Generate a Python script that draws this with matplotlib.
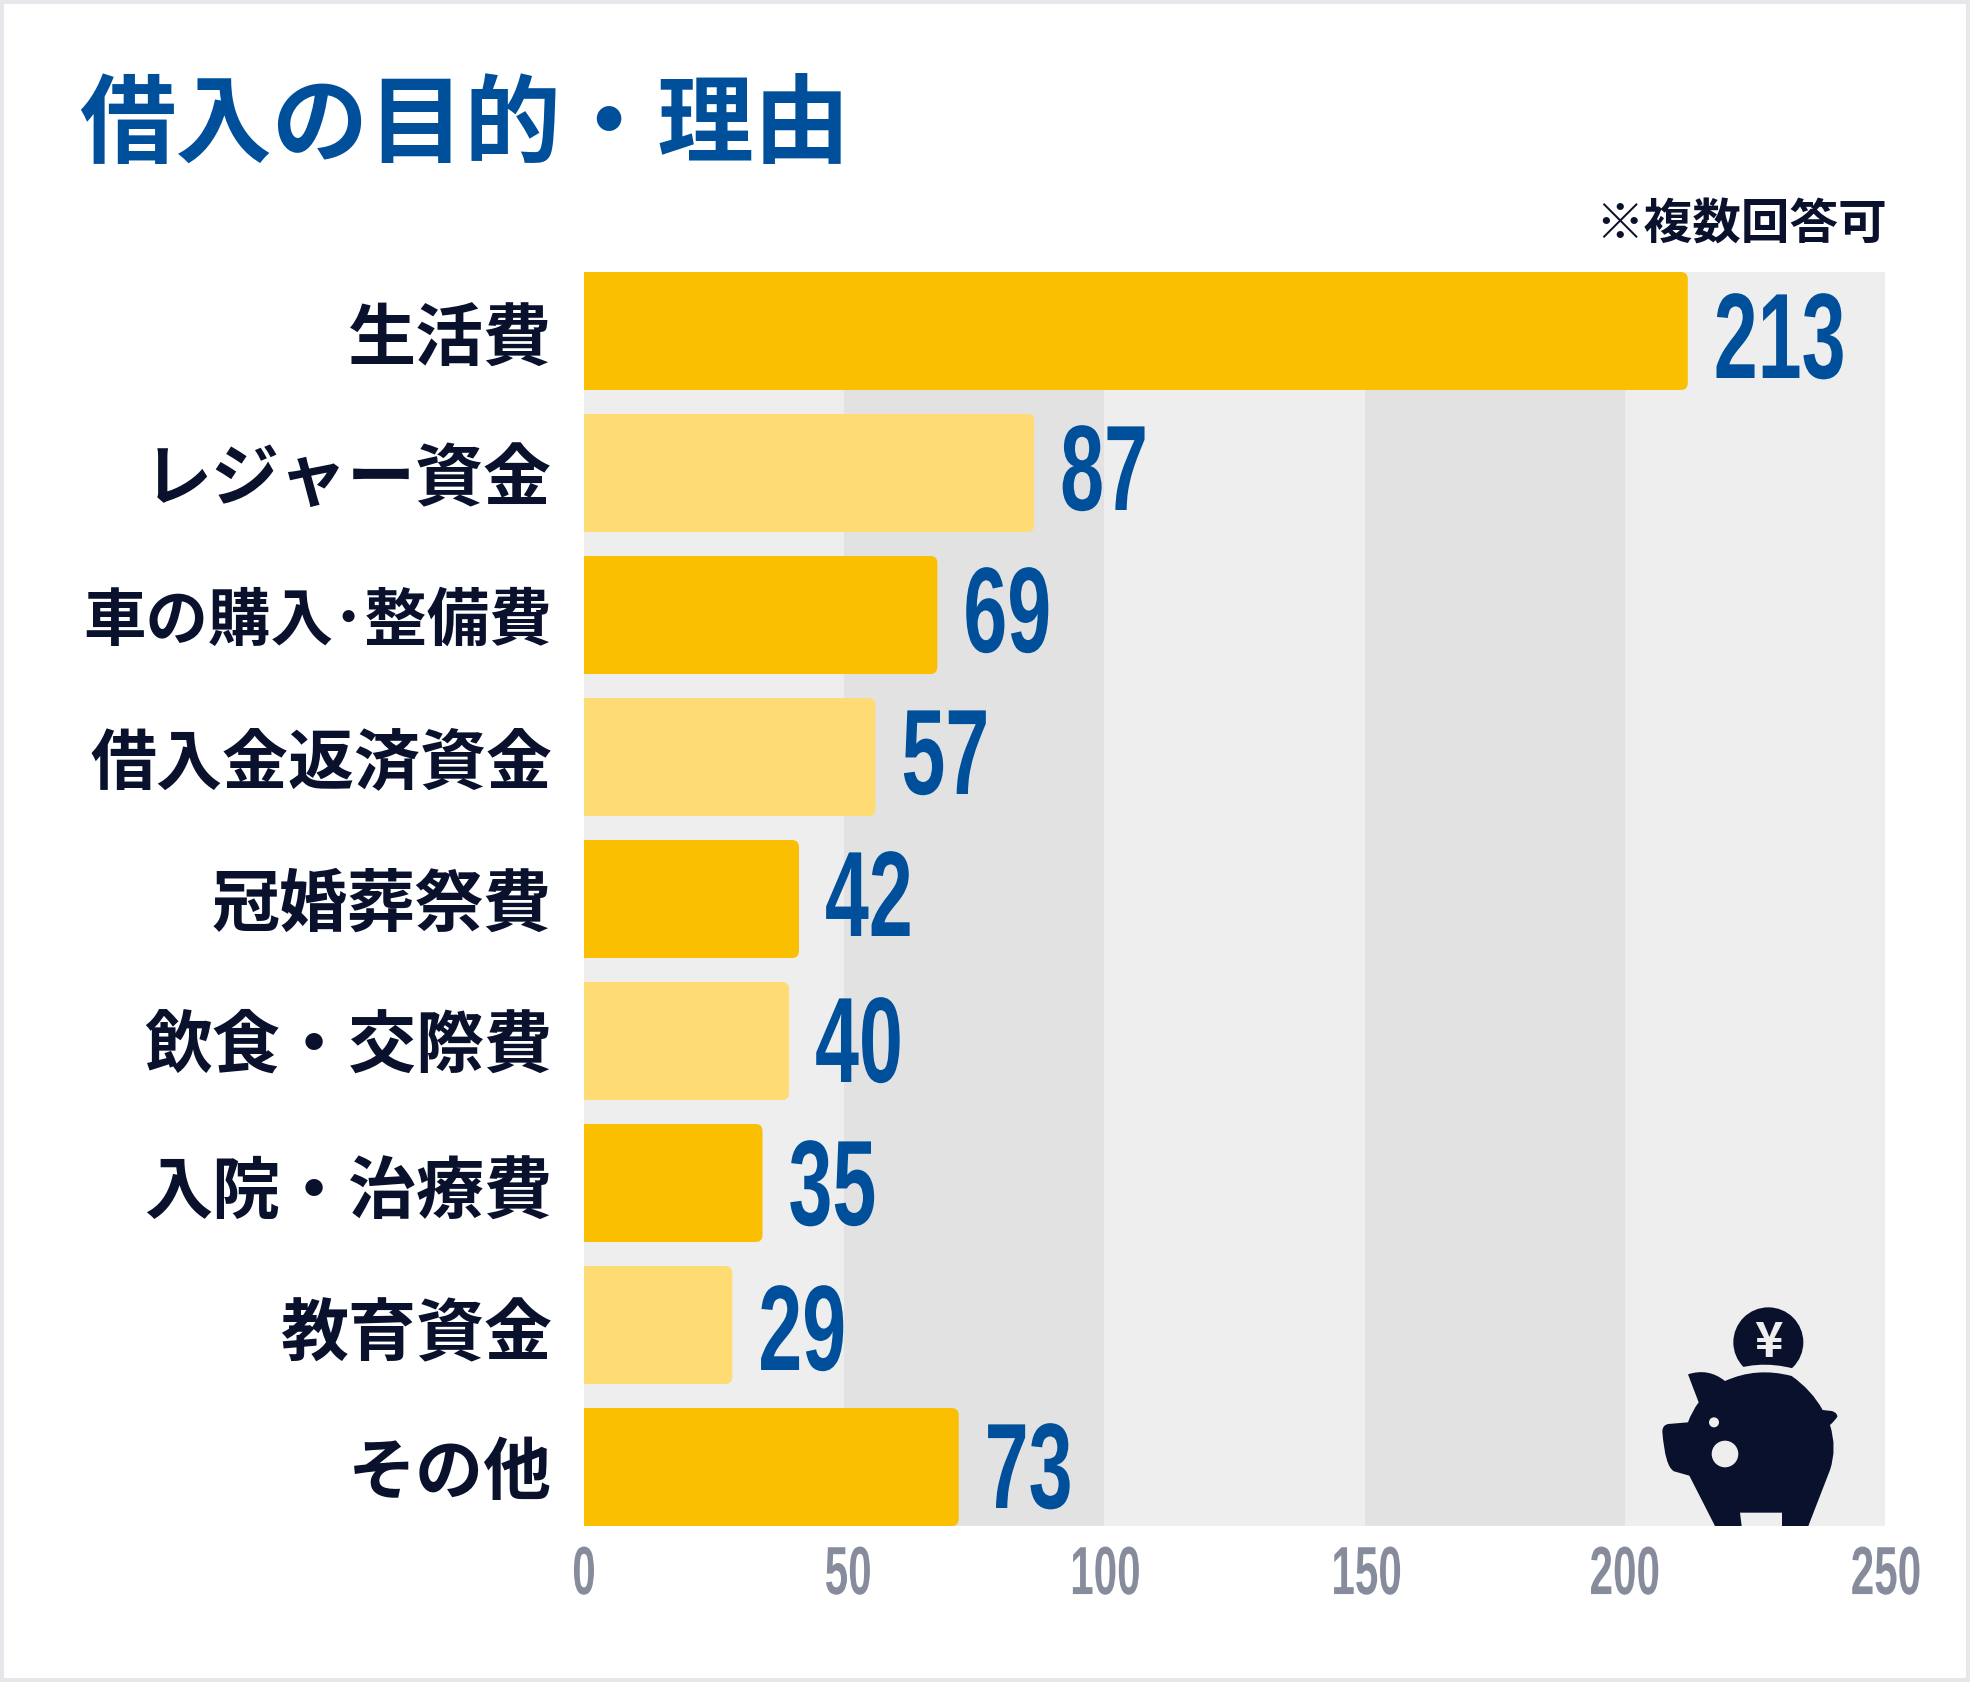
# 借入の目的・理由 horizontal bar chart
import matplotlib
matplotlib.use('Agg')
import matplotlib.pyplot as plt
from matplotlib.patches import FancyBboxPatch, PathPatch, Circle, Rectangle
from matplotlib.path import Path
from matplotlib.patheffects import AbstractPathEffect
from matplotlib.transforms import Affine2D

plt.rcParams['font.family'] = ['Noto Sans CJK JP', 'DejaVu Sans']

# Data
categories = ['生活費', 'レジャー資金', '車の購入･整備費', '借入金返済資金', '冠婚葬祭費',
              '飲食・交際費', '入院・治療費', '教育資金', 'その他']
values = [213, 87, 69, 57, 42, 40, 35, 29, 73]
# bars in the picture stop a little short of their printed number
bar_lengths = [212.1, 86.5, 67.9, 56.0, 41.3, 39.4, 34.3, 28.5, 72.0]
x_ticks = [0, 50, 100, 150, 200, 250]
title = '借入の目的・理由'
note = '※複数回答可'

# Colours
blue = '#004F9B'
navy = '#0A112C'
grey_text = '#878C9C'
band_light = '#EEEEEE'
band_dark = '#E2E2E2'
bar_colors = ['#F9BF00', '#FFDC73']
border = '#E5E7EA'

# text sits unevenly in the picture, offsets per row / tick in pixels
value_dy = [15, 5, 5, 5, 5, 9, 10, 13, 9]
cat_dy = [3, 0, 0, 0, 0, -1, 4, 3, 0]
tick_dx = [0, 4, 1, 2, 0, 1]

W, H = 1970, 1682
digit_font = 'Liberation Sans'
digit_w = 0.65
tick_w = 0.62


class Squeeze(AbstractPathEffect):
    # narrows the glyphs around a fixed x pixel, to imitate a condensed font
    def __init__(self, x0, sx, dx=0):
        super().__init__()
        self.x0 = x0
        self.sx = sx
        self.dx = dx

    def draw_path(self, renderer, gc, tpath, affine, rgbFace=None):
        squeeze = Affine2D().translate(-self.x0, 0).scale(self.sx, 1).translate(self.x0 + self.dx, 0)
        renderer.draw_path(gc, tpath, affine + squeeze, rgbFace)


fig = plt.figure(figsize=(W / 100, H / 100), dpi=100, facecolor='white')

left, right, top, bottom = 584, 1885, 272, 1526
ax = fig.add_axes([left / W, 1 - bottom / H, (right - left) / W, (bottom - top) / H])
ax.set_xlim(0, 250)
bar_h = 118 / 142
ax.set_ylim(len(values) - 1 + bar_h / 2, -bar_h / 2)
for s in ax.spines.values():
    s.set_visible(False)
ax.tick_params(length=0)

# Background bands, every 50
for i in range(len(x_ticks) - 1):
    ax.axvspan(x_ticks[i], x_ticks[i + 1], color=band_dark if i % 2 else band_light, lw=0, zorder=0)

# Bars, only the right corners are rounded (left ones are clipped by the axes)
px_x = (right - left) / 250
px_y = 142
r = 7 / px_x
for i, v in enumerate(bar_lengths):
    bar = FancyBboxPatch((-10, i - bar_h / 2), v + 10, bar_h,
                         boxstyle=f'round,pad=0,rounding_size={r}',
                         mutation_aspect=px_x / px_y,
                         fc=bar_colors[i % 2], ec='none', zorder=2)
    ax.add_patch(bar)

fig.canvas.draw()

# Value labels
gap = 26
for i, (v, b) in enumerate(zip(values, bar_lengths)):
    x0 = ax.transData.transform((b, 0))[0] + gap
    ax.text(b, i + value_dy[i] / 142, str(v), color=blue, fontsize=87.5, fontweight='bold', family=digit_font,
            ha='left', va='center', zorder=3,
            transform=ax.transData + Affine2D().translate(gap, 0),
            path_effects=[Squeeze(x0, digit_w)])

# Axis labels
ax.set_yticks(range(len(categories)), categories)
ax.tick_params(axis='y', pad=23)
for lab, cat, dy in zip(ax.get_yticklabels(), categories, cat_dy):
    lab.set_fontweight('bold')
    lab.set_color(navy)
    size = 49
    if cat == '車の購入･整備費':
        size = 45
    elif cat == '借入金返済資金':
        size = 47.5
    lab.set_fontsize(size)
    lab.set_transform(lab.get_transform() + Affine2D().translate(0, -dy))
ax.set_xticks(x_ticks, [str(t) for t in x_ticks])
ax.tick_params(axis='x', pad=13)
for lab, t, dx in zip(ax.get_xticklabels(), x_ticks, tick_dx):
    lab.set_family(digit_font)
    lab.set_fontweight('bold')
    lab.set_fontsize(49)
    lab.set_color(grey_text)
    lab.set_path_effects([Squeeze(ax.transData.transform((t, 0))[0], tick_w, dx)])

# Overlay in reference pixels for title, note, icon and frame
ov = fig.add_axes([0, 0, 1, 1], facecolor='none')
ov.set_xlim(0, W)
ov.set_ylim(H, 0)
ov.axis('off')
ov.add_patch(Rectangle((0, 0), W, H, fc='none', ec=border, lw=5.8, clip_on=True))
ov.text(79, 127, title, color=blue, fontsize=69.4, fontweight='bold', ha='left', va='center')
ov.text(1887, 225, note, color=navy, fontsize=35, fontweight='bold', ha='right', va='center')


# Piggy bank icon, outline in pixels
def zx(x):
    return 1600 + x / 3


def zy(y):
    return 1270 + y / 3


M, L, C = Path.MOVETO, Path.LINETO, Path.CURVE3
pig = [
    (M, 264, 313), (C, 325, 293), (C, 375, 333), (C, 470, 290), (C, 575, 318), (C, 635, 360), (C, 668, 420),
    (L, 695, 423), (C, 712, 428), (C, 712, 440), (C, 705, 452), (C, 690, 465),
    (C, 712, 535), (C, 690, 600), (L, 625, 768), (L, 546, 768), (L, 546, 728), (L, 420, 728), (L, 425, 768),
    (L, 345, 768), (L, 268, 617), (L, 222, 604), (C, 195, 590), (C, 187, 485),
    (C, 187, 465), (C, 205, 462), (L, 264, 457), (C, 275, 425), (C, 296, 397), (L, 264, 313),
]
verts = [(zx(p[1]), zy(p[2])) for p in pig]
codes = [p[0] for p in pig]
body = Path(verts, codes)
plot_box = Rectangle((left, top), right - left, bottom - top, transform=ov.transData)
ov.add_patch(Circle((zx(505), zy(217)), 105 / 3, fc=navy, ec='none'))
halo = PathPatch(body, fc=band_light, ec=band_light, lw=11, zorder=2)
ov.add_patch(halo)
halo.set_clip_path(plot_box)
ov.add_patch(PathPatch(body, fc=navy, ec='none', zorder=3))
ov.add_patch(Circle((zx(342), zy(457)), 5, fc=band_light, ec='none', zorder=4))
ov.add_patch(Circle((zx(375), zy(552)), 13.3, fc=band_light, ec='none', zorder=4))
ov.text(zx(505), zy(218), '¥', color=band_light, fontsize=35, fontweight='bold',
        ha='center', va='center', zorder=5)

fig.savefig('out.png', dpi=100)
